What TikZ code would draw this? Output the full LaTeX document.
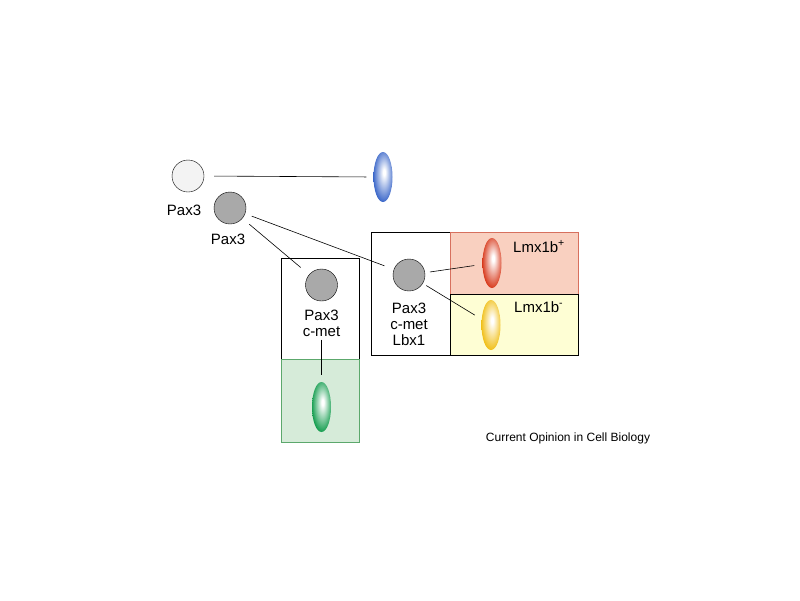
\documentclass[tikz,border=0pt]{standalone}
\usepackage{fontspec}
\setmainfont{Liberation Sans}
\usetikzlibrary{shapes.geometric}
\definecolor{cellgray}{HTML}{A9A9A9}
\definecolor{cellpale}{HTML}{F3F3F3}
\definecolor{greenfill}{HTML}{D6EBD9}
\definecolor{greenline}{HTML}{5CA86C}
\definecolor{redfill}{HTML}{F9D0C0}
\definecolor{redline}{HTML}{D7705E}
\definecolor{yellowfill}{HTML}{FEFED4}
\colorlet{bc}{blue}
\pgfdeclareradialshading[bc]{blobshade}{\pgfpoint{3bp}{5bp}}{color(0bp)=(white); color(3bp)=(white); color(18bp)=(bc!60!white); color(28bp)=(bc); color(50bp)=(bc)}
\begin{document}
\begin{tikzpicture}[x=1pt,y=-1pt,
  cell/.style={draw, circle, minimum size=32pt, inner sep=0pt},
  blob/.style={ellipse, minimum width=19pt, minimum height=50pt, inner sep=0pt, shading=blobshade},
  blobcolor/.code={\colorlet{bc}{#1}},
  panel/.style={draw, anchor=north west, inner sep=0pt},
  lbl/.style={font=\fontsize{15}{16}\selectfont, align=center, inner sep=1pt},
  link/.style={semithick}]
\useasboundingbox (0,0) rectangle (800,600);

% boxes
\node (metbox) at (281,258) [panel, fill=white, minimum width=78pt, minimum height=101pt] {};
\node (limbbox) at (281,359) [panel, draw=greenline, fill=greenfill, minimum width=78pt, minimum height=83pt] {};
\node (lbxbox) at (371,232) [panel, fill=white, minimum width=79pt, minimum height=123pt] {};
\node (plusbox) at (450,232) [panel, draw=redline, fill=redfill, minimum width=128pt, minimum height=62pt] {};
\node (minusbox) at (450,294) [panel, fill=yellowfill, minimum width=128pt, minimum height=61pt] {};

% cells
\node (p0) at (188,176) [cell, fill=cellpale] {};
\node (p1) at (230,208) [cell, fill=cellgray] {};
\node (p2) at (321.5,285) [cell, fill=cellgray] {};
\node (p3) at (409,275) [cell, fill=cellgray] {};
\node (l0) at (184,215) [lbl, anchor=base] {Pax3};
\node (l1) at (228,244) [lbl, anchor=base] {Pax3};
\node (l2) at (321.5,323) [lbl] {Pax3\\c-met};
\node (l3) at (409,324.5) [lbl] {Pax3\\c-met\\Lbx1};

% muscle blobs
\node (b0) at (383,177) [blob, blobcolor={rgb,255:red,55;green,100;blue,200}] {};
\node (b1) at (321.5,407) [blob, blobcolor={rgb,255:red,15;green,155;blue,75}] {};
\node (b2) at (492,263) [blob, blobcolor={rgb,255:red,215;green,55;blue,25}] {};
\node (b3) at (491,325) [blob, blobcolor={rgb,255:red,240;green,190;blue,20}] {};
\node (m0) at (512,252) [lbl, anchor=base west] {Lmx1b\textsuperscript{+}};
\node (m1) at (513,312) [lbl, anchor=base west] {Lmx1b\textsuperscript{-}};

\node (src) at (568,438) [font=\fontsize{12}{13}\selectfont] {Current Opinion in Cell Biology};

\draw[link, shorten <=10pt, shorten >=7pt] (p0.east) -- (b0.west);
\draw[link, shorten <=7pt, shorten >=10pt] (p1) -- (p3);
\draw[link, shorten <=9pt, shorten >=11pt] (p1) -- (p2);
\draw[link, shorten <=5pt, shorten >=8pt] (p3) -- (b2);
\draw[link, shorten <=4pt, shorten >=8pt] (p3) -- (b3);
\draw[link, shorten <=2pt, shorten >=7pt] (l2.south) -- (b1);
\end{tikzpicture}
\end{document}
